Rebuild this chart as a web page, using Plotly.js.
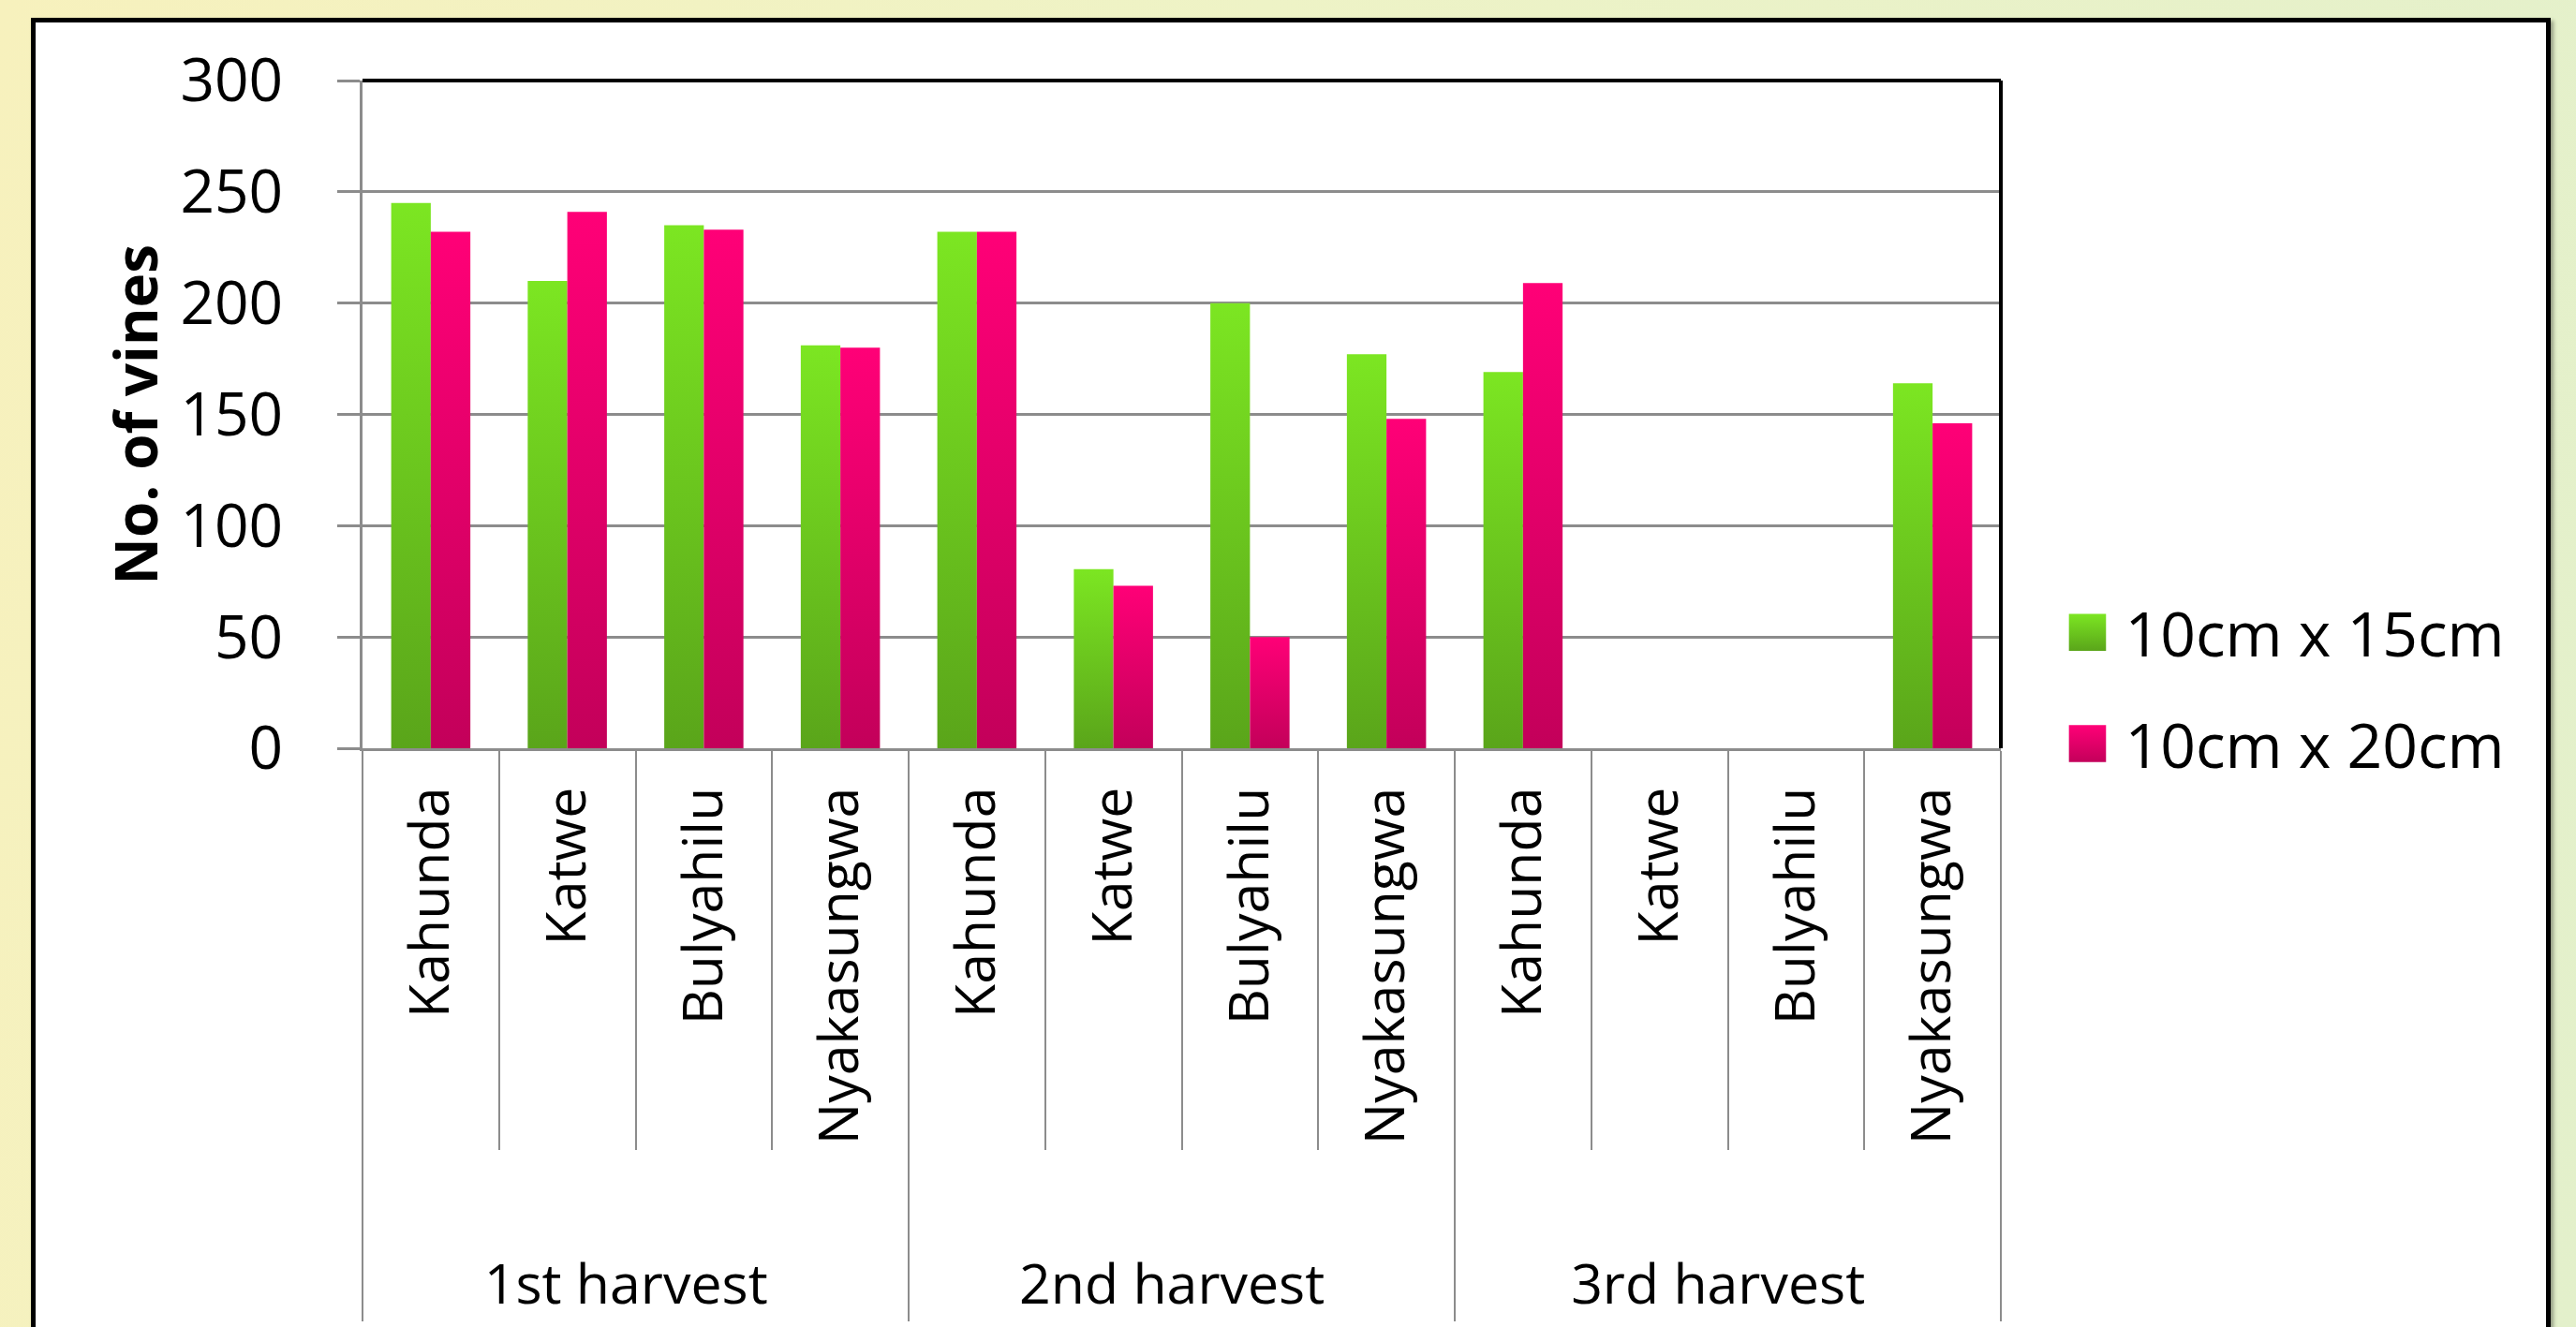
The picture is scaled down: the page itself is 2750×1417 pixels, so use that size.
<!DOCTYPE html>
<html><head><meta charset="utf-8">
<script src="https://cdn.plot.ly/plotly-3.0.1.min.js"></script>
<style>
html,body{margin:0;padding:0;width:2750px;height:1417px;overflow:hidden;
background:linear-gradient(100deg,#f7f1bd 0%,#eef3c6 45%,#e3f0cb 100%);}
#frame{position:absolute;left:33px;top:19px;width:2680px;height:1450px;border:5px solid #000;background:#fff;box-shadow:3px 3px 4px rgba(0,0,0,0.35);}
#chart{width:2680px;height:1450px;}
</style></head><body>
<div id="frame"><div id="chart"></div></div>
<script>
const harvestLabels = ['1st harvest','1st harvest','1st harvest','1st harvest',
  '2nd harvest','2nd harvest','2nd harvest','2nd harvest',
  '3rd harvest','3rd harvest','3rd harvest','3rd harvest'];
const siteLabels = ['Kahunda','Katwe','Bulyahilu','Nyakasungwa',
  'Kahunda','Katwe','Bulyahilu','Nyakasungwa',
  'Kahunda','Katwe','Bulyahilu','Nyakasungwa'];
const spacing10x15 = [245, 210, 235, 181, 232, 80.5, 200, 177, 169, null, null, 164];
const spacing10x20 = [232, 241, 233, 180, 232, 73, 50, 148, 209, null, null, 146];
const seriesNames = ['10cm x 15cm', '10cm x 20cm'];
const yTickVals = [0, 50, 100, 150, 200, 250, 300];

const FONT = 'Open Sans, Noto Sans, sans-serif';
const GRID = '#8c8c8c';

// outer (group) labels get an empty first line so they sit lower, as in the original
const groupAxisLabels = harvestLabels.map(h => '<br>' + h);

const data = [
  {type:'bar', name: seriesNames[0], x:[groupAxisLabels, siteLabels], y: spacing10x15,
   marker:{color:'#6cc81f', line:{width:0}}, legendgroup:'a'},
  {type:'bar', name: seriesNames[1], x:[groupAxisLabels, siteLabels], y: spacing10x20,
   marker:{color:'#e8006c', line:{width:0}}, legendgroup:'b'}
];

const layout = {
  width: 2680, height: 1450,
  margin: {l: 349, r: 582, t: 62, b: 675},
  paper_bgcolor: 'rgba(0,0,0,0)', plot_bgcolor: '#fff',
  font: {family: FONT, color: '#000'},
  barmode: 'group', bargap: 0.42, bargroupgap: 0,
  showlegend: true,
  legend: {x: 1.03, y: 0.09, xanchor: 'left', yanchor: 'middle',
    font: {size: 66, family: FONT, color: '#000'}, itemwidth: 70,
    tracegroupgap: 30, bgcolor: 'rgba(0,0,0,0)', traceorder: 'grouped'},
  xaxis: {
    type: 'multicategory', tickangle: -90,
    tickfont: {size: 59, family: FONT, color: '#000'},
    showline: true, linecolor: GRID, linewidth: 3,
    ticks: 'outside', tickson: 'boundaries', ticklen: 426, tickwidth: 2, tickcolor: GRID,
    ticklabelstandoff: 15,
    showdividers: true, dividercolor: GRID, dividerwidth: 2,
    showgrid: false, zeroline: false
  },
  yaxis: {
    range: [0, 300], tickvals: yTickVals,
    tickfont: {size: 64, family: FONT, color: '#000'},
    showline: true, linecolor: GRID, linewidth: 3,
    ticks: 'outside', ticklen: 24, tickwidth: 3, tickcolor: GRID,
    ticklabelstandoff: 45,
    showgrid: true, gridcolor: GRID, gridwidth: 3, zeroline: false
  },
  shapes: [
    {type:'line', xref:'paper', yref:'paper', x0:0, x1:1, y0:1, y1:1, line:{color:'#000', width:4}},
    {type:'line', xref:'paper', yref:'paper', x0:1, x1:1, y0:0, y1:1, line:{color:'#000', width:4}}
  ],
  annotations: [
    {text: '<b>No. of vines</b>', textangle: -90, xref: 'paper', yref: 'paper',
     x: -0.139, y: 0.5, xanchor: 'center', yanchor: 'middle', showarrow: false,
     font: {size: 62, family: FONT, color: '#000'}}
  ]
};

Plotly.newPlot('chart', data, layout, {staticPlot: true}).then(gd => {
  const ns = 'http://www.w3.org/2000/svg';
  const svg = gd.querySelector('.main-svg');
  let defs = svg.querySelector('defs');
  if (!defs) { defs = document.createElementNS(ns, 'defs'); svg.insertBefore(defs, svg.firstChild); }
  function addGrad(id, top, bot) {
    const g = document.createElementNS(ns, 'linearGradient');
    g.setAttribute('id', id);
    g.setAttribute('x1', '0'); g.setAttribute('y1', '0');
    g.setAttribute('x2', '0'); g.setAttribute('y2', '1');
    [[0, top], [1, bot]].forEach(([o, c]) => {
      const s = document.createElementNS(ns, 'stop');
      s.setAttribute('offset', o); s.setAttribute('stop-color', c);
      g.appendChild(s);
    });
    defs.appendChild(g);
  }
  addGrad('gradA', '#7ce622', '#5aa51a');
  addGrad('gradB', '#ff0077', '#c3005a');
  const grads = ['gradA', 'gradB'];
  gd.querySelectorAll('.barlayer .trace').forEach((t, i) => {
    t.querySelectorAll('path').forEach(p => { p.style.fill = `url(#${grads[i]})`; });
  });
  gd.querySelectorAll('.legend .traces').forEach((t, i) => {
    t.querySelectorAll('.legendpoints path').forEach(p => {
      p.style.fill = `url(#${grads[i]})`;
      p.style.strokeWidth = '0';
      const tr = p.getAttribute('transform') || '';
      p.setAttribute('transform', tr + ' scale(3.3)');
    });
  });
});
</script>
</body></html>
